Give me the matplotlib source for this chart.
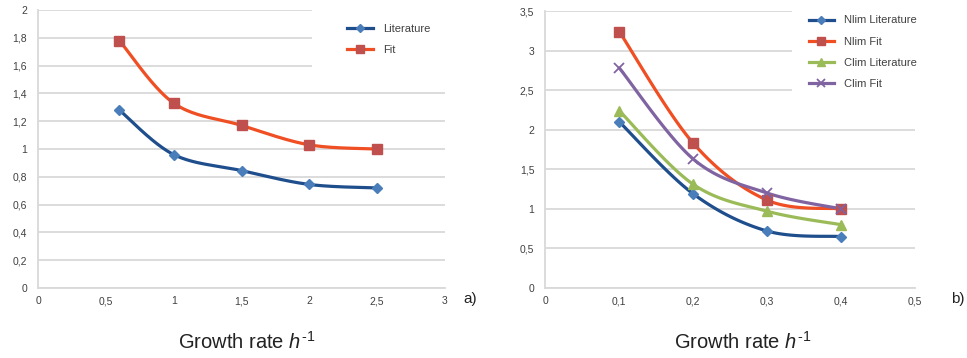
import numpy as np
import matplotlib.pyplot as plt
from matplotlib.patches import Rectangle

plt.rcParams['font.family'] = ['Liberation Sans Narrow', 'Liberation Sans', 'DejaVu Sans']
plt.rcParams['mathtext.fontset'] = 'custom'
plt.rcParams['mathtext.rm'] = 'Liberation Sans'
plt.rcParams['mathtext.it'] = 'Liberation Sans:italic'

# panel a
x_a = [0.6, 1.0, 1.5, 2.0, 2.5]
lit_a = [1.28, 0.96, 0.845, 0.745, 0.72]
fit_a = [1.78, 1.33, 1.17, 1.03, 1.0]

# panel b
x_b = [0.1, 0.2, 0.3, 0.4]
nlim_lit = [2.1, 1.19, 0.72, 0.65]
nlim_fit = [3.24, 1.83, 1.11, 1.0]
clim_lit = [2.24, 1.31, 0.97, 0.8]
clim_fit = [2.78, 1.63, 1.2, 1.0]

BLUE_L, BLUE_M = '#1f4e8c', '#4a7ebb'
RED_L, RED_M = '#f04e23', '#c0504d'
GREEN = '#9bbb59'
PURPLE = '#8064a2'
GRID = '#d9d9d9'
TXT = '#404040'


def smooth(x, y, n=40):
    # excel-like smoothed line (cardinal spline through the points)
    x = np.asarray(x, float)
    y = np.asarray(y, float)
    px = np.r_[x[0], x, x[-1]]
    py = np.r_[y[0], y, y[-1]]
    t = np.linspace(0, 1, n)[:, None]
    xs, ys = [], []
    for i in range(1, len(px) - 2):
        p0 = np.array([px[i], py[i]])
        p3 = np.array([px[i + 1], py[i + 1]])
        p1 = p0 + (p3 - np.array([px[i - 1], py[i - 1]])) / 6
        p2 = p3 - (np.array([px[i + 2], py[i + 2]]) - p0) / 6
        b = (1 - t) ** 3 * p0 + 3 * (1 - t) ** 2 * t * p1 + 3 * (1 - t) * t ** 2 * p2 + t ** 3 * p3
        xs.append(b[:, 0])
        ys.append(b[:, 1])
    return np.concatenate(xs), np.concatenate(ys)


def series(ax, x, y, lc, mc, marker, ms, label):
    sx, sy = smooth(x, y)
    ax.plot(sx, sy, color=lc, lw=2.3, zorder=3, solid_capstyle='round')
    kw = dict(mfc=mc, mec=mc)
    if marker == 'x':
        kw = dict(mec=mc, mew=1.3)
    ax.plot(x, y, ls='none', marker=marker, ms=ms, zorder=4, **kw)
    ax.plot([], [], color=lc, lw=2.3, marker=marker, ms=ms - 1, label=label, **kw)


def style(ax, xmax, xstep, ymax, ystep):
    ax.set_xlim(0, xmax)
    ax.set_ylim(0, ymax)
    ax.set_xticks(np.arange(0, xmax + 1e-9, xstep))
    ax.set_yticks(np.arange(0, ymax + 1e-9, ystep))
    fmt = lambda v: ('%g' % round(v, 2)).replace('.', ',')
    ax.set_xticklabels([fmt(v) for v in ax.get_xticks()])
    ax.set_yticklabels([fmt(v) for v in ax.get_yticks()])
    ax.grid(axis='y', color=GRID, lw=1.3, zorder=0)
    ax.set_axisbelow(True)
    for s in ['top', 'right']:
        ax.spines[s].set_visible(False)
    for s in ['left', 'bottom']:
        ax.spines[s].set_color(GRID)
        ax.spines[s].set_linewidth(1.3)
    ax.tick_params(length=0, labelsize=7.5, colors=TXT)
    ax.tick_params(axis='x', pad=6)
    ax.tick_params(axis='y', pad=8)


fig = plt.figure(figsize=(9.67, 3.58), dpi=100)
ax1 = fig.add_axes([0.0393, 0.1955, 0.4209, 0.7765])
ax2 = fig.add_axes([0.5640, 0.1955, 0.3822, 0.7737])

leg_kw = dict(loc='upper left', frameon=False, fontsize=8, handlelength=2.3,
              handletextpad=0.9, labelspacing=1.0, labelcolor=TXT)

style(ax1, 3, 0.5, 2, 0.2)
series(ax1, x_a, lit_a, BLUE_L, BLUE_M, 'D', 5.5, 'Literature')
series(ax1, x_a, fit_a, RED_L, RED_M, 's', 7, 'Fit')
ax1.add_patch(Rectangle((2.02, 1.5), 1.2, 0.6, facecolor='white', edgecolor='none',
                        zorder=1, clip_on=False))
ax1.legend(bbox_to_anchor=(0.735, 0.985), **leg_kw)

style(ax2, 0.5, 0.1, 3.5, 0.5)
series(ax2, x_b, nlim_lit, BLUE_L, BLUE_M, 'D', 5.5, 'Nlim Literature')
series(ax2, x_b, nlim_fit, RED_L, RED_M, 's', 7, 'Nlim Fit')
series(ax2, x_b, clim_lit, GREEN, GREEN, '^', 7, 'Clim Literature')
series(ax2, x_b, clim_fit, PURPLE, PURPLE, 'x', 7, 'Clim Fit')
ax2.add_patch(Rectangle((0.333, 2.2), 0.2, 1.5, facecolor='white', edgecolor='none',
                        zorder=1, clip_on=False))
ax2.legend(bbox_to_anchor=(0.685, 1.02), **leg_kw)

for cx, lab, px in [(0.255, 'a)', 0.486), (0.768, 'b)', 0.990)]:
    fig.text(cx, 0.045, 'Growth rate $\\mathit{h}^{\\mathit{\u2010 1}}$', ha='center',
             va='center', fontsize=14.5, color='#222222')
    fig.text(px, 0.165, lab, ha='center', va='center', fontsize=11, color='#222222')

fig.savefig('out.png', dpi=100)
